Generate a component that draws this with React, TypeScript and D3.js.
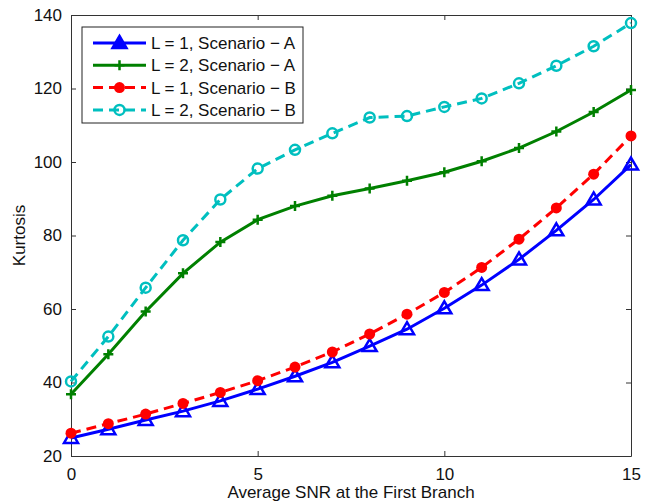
import React, { useEffect, useRef } from 'react'
import * as d3 from 'd3'

const snr = [0, 1, 2, 3, 4, 5, 6, 7, 8, 9, 10, 11, 12, 13, 14, 15]
const l1ScenarioA = [24.9, 27.3, 29.8, 32.2, 35.0, 38.2, 41.7, 45.5, 49.9, 54.5, 60.2, 66.5, 73.5, 81.4, 89.8, 99.3]
const l2ScenarioA = [36.8, 47.7, 59.3, 69.7, 78.2, 84.3, 88.0, 90.8, 92.8, 94.9, 97.2, 100.2, 103.8, 108.3, 113.6, 119.6]
const l1ScenarioB = [26.2, 28.8, 31.4, 34.3, 37.3, 40.5, 44.2, 48.3, 53.2, 58.6, 64.5, 71.3, 79.0, 87.5, 96.7, 107.1]
const l2ScenarioB = [40.3, 52.5, 65.8, 78.7, 89.8, 98.2, 103.3, 107.8, 112.1, 112.5, 115.0, 117.3, 121.4, 126.2, 131.5, 137.8]
const xTicks = [0, 5, 10, 15]
const yTicks = [20, 40, 60, 80, 100, 120, 140]

const series = [
    { name: 'L = 1, Scenario \u2212 A', values: l1ScenarioA, color: '#0000ff', dash: null, marker: 'triangle' },
    { name: 'L = 2, Scenario \u2212 A', values: l2ScenarioA, color: '#008000', dash: null, marker: 'plus' },
    { name: 'L = 1, Scenario \u2212 B', values: l1ScenarioB, color: '#ff0000', dash: '10,6', marker: 'dot' },
    { name: 'L = 2, Scenario \u2212 B', values: l2ScenarioB, color: '#00bfbf', dash: '10,6', marker: 'circle' },
]

const W = 654
const H = 504
const margin = { top: 15, right: 23, bottom: 48, left: 71 }
const font = 'Liberation Sans, Arial, sans-serif'
const fs = 17

function drawMarker(g, kind, color, x, y, filled = false) {
    if (kind === 'triangle') {
        g.append('path')
            .attr('d', `M${x},${y - 7} L${x + 7},${y + 5} L${x - 7},${y + 5} Z`)
            .attr('fill', filled ? color : 'none').attr('stroke', color).attr('stroke-width', 2.5)
    } else if (kind === 'plus') {
        g.append('path')
            .attr('d', `M${x - 5},${y} H${x + 5} M${x},${y - 5} V${y + 5}`)
            .attr('stroke', color).attr('stroke-width', 2.5)
    } else if (kind === 'dot') {
        g.append('circle').attr('cx', x).attr('cy', y).attr('r', 5.5).attr('fill', color)
    } else {
        g.append('circle').attr('cx', x).attr('cy', y).attr('r', 5)
            .attr('fill', 'none').attr('stroke', color).attr('stroke-width', 2.5)
    }
}

export default function App() {
    const ref = useRef(null)

    useEffect(() => {
        const svg = d3.select(ref.current)
        svg.selectAll('*').remove()

        const pw = W - margin.left - margin.right
        const ph = H - margin.top - margin.bottom
        const x = d3.scaleLinear().domain([0, 15]).range([0, pw])
        const y = d3.scaleLinear().domain([20, 140]).range([ph, 0])

        const plot = svg.append('g').attr('transform', `translate(${margin.left},${margin.top})`)

        // axes, MATLAB style: ticks inward, box all round
        plot.append('g').attr('transform', `translate(0,${ph})`)
            .call(d3.axisBottom(x).tickValues(xTicks).tickSizeInner(-5).tickSizeOuter(0).tickPadding(12))
        plot.append('g')
            .call(d3.axisLeft(y).tickValues(yTicks).tickSizeInner(-5).tickSizeOuter(0).tickPadding(9))
        plot.append('g').call(d3.axisTop(x).tickValues(xTicks).tickSizeInner(-5).tickSizeOuter(0).tickFormat(() => ''))
        plot.append('g').attr('transform', `translate(${pw},0)`)
            .call(d3.axisRight(y).tickValues(yTicks).tickSizeInner(-5).tickSizeOuter(0).tickFormat(() => ''))
        plot.selectAll('.domain').attr('stroke', '#333').attr('stroke-width', 1)
        plot.selectAll('.tick line').attr('stroke', '#333')
        plot.selectAll('.tick text').attr('font-family', font).attr('font-size', fs).attr('fill', '#111')

        const line = d3.line().x((d, i) => x(snr[i])).y(d => y(d))

        series.forEach(s => {
            plot.append('path').datum(s.values)
                .attr('fill', 'none').attr('stroke', s.color).attr('stroke-width', 3)
                .attr('stroke-dasharray', s.dash)
                .attr('d', line)
            const mg = plot.append('g')
            s.values.forEach((v, i) => drawMarker(mg, s.marker, s.color, x(snr[i]), y(v)))
        })

        // legend
        const lg = svg.append('g').attr('transform', 'translate(82,27)')
        lg.append('rect').attr('width', 221).attr('height', 96).attr('fill', '#fff').attr('stroke', '#222').attr('stroke-width', 1)
        series.forEach((s, i) => {
            const cy = 16 + i * 22.3
            lg.append('line').attr('x1', 11).attr('x2', 64).attr('y1', cy).attr('y2', cy)
                .attr('stroke', s.color).attr('stroke-width', 3).attr('stroke-dasharray', s.dash)
            drawMarker(lg, s.marker, s.color, 37.5, cy, true)
            lg.append('text').attr('x', 69).attr('y', cy + 6)
                .attr('font-family', font).attr('font-size', fs).attr('fill', '#111')
                .text(s.name)
        })

        svg.append('text').attr('x', margin.left + pw / 2).attr('y', 498)
            .attr('text-anchor', 'middle').attr('font-family', font).attr('font-size', fs).attr('fill', '#111')
            .text('Average SNR at the First Branch')
        svg.append('text').attr('transform', `translate(25,${margin.top + ph / 2}) rotate(-90)`)
            .attr('text-anchor', 'middle').attr('font-family', font).attr('font-size', fs).attr('fill', '#111')
            .text('Kurtosis')
    }, [])

    return (
        <svg ref={ref} width={W} height={H} style={{ position: 'absolute', left: 0, top: 0, background: '#fff' }} />
    )
}
